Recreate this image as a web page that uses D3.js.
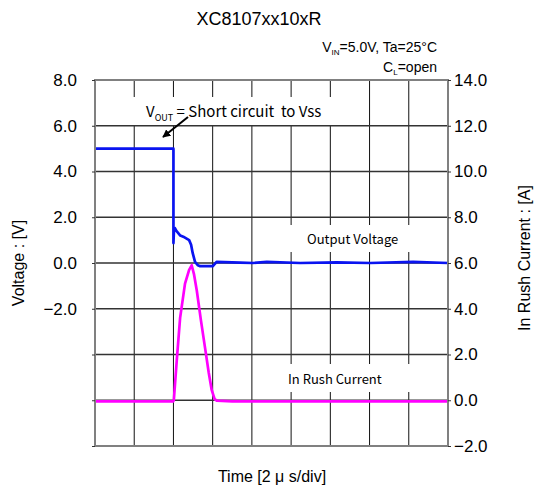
<!DOCTYPE html>
<html>
<head>
<meta charset="utf-8">
<script src="https://cdn.jsdelivr.net/npm/d3@7"></script>
<style>
  body { margin: 0; background: #fff; }
  svg { display: block; }
  .tick text { font-family: "Liberation Sans", Arial, sans-serif; font-size: 17px; fill: #000; }
  .jp { font-family: "Noto Sans CJK JP", sans-serif; }
</style>
</head>
<body>
<div id="chart"></div>
<script>
// tempo in microsecondi (2 us/div, 9 divisioni)
const timeDomain = [0, 18];
const voltDomain = [-8, 8];
const currDomain = [-2, 14];

const voltTicks = [-8, -6, -4, -2, 0, 2, 4, 6, 8];
const voltLabeled = [-2, 0, 2, 4, 6, 8];
const currTicks = [-2, 0, 2, 4, 6, 8, 10, 12, 14];
const timeGrid = [2, 4, 6, 8, 10, 12, 14, 16];

// Output Voltage [us, V]
const vOutT = [0, 4.0, 4.0, 4.03, 4.08, 4.15, 4.35, 4.5, 4.8, 4.9, 4.98, 5.1, 5.25, 5.36, 6.0, 6.1, 6.2, 7.4, 8.06, 8.76, 10.46, 12.33, 14.03, 16.22, 18];
const vOutV = [5.0, 5.0, 0.87, 1.5, 1.52, 1.4, 1.2, 1.15, 1.0, 0.8, 0.44, 0.05, -0.1, -0.14, -0.14, -0.05, 0.05, 0.02, 0.0, 0.05, 0.0, 0.03, 0.0, 0.05, 0.0];

// In Rush Current [us, A]
const iRushT = [0, 3.98, 4.02, 4.17, 4.34, 4.59, 4.8, 4.93, 5.05, 5.19, 5.4, 5.61, 5.8, 5.95, 6.1, 6.21, 7, 18];
const iRushA = [-0.05, -0.05, 0.0, 1.75, 3.6, 5.1, 5.7, 5.9, 5.5, 4.8, 3.5, 2.3, 1.2, 0.45, 0.05, -0.02, -0.05, -0.05];

const W = 537, H = 494;
const pLeft = 95, pRight = 448, pTop = 80, pBottom = 446;

const svg = d3.select("#chart").append("svg")
    .attr("width", W)
    .attr("height", H);

const x = d3.scaleLinear().domain(timeDomain).range([pLeft, pRight]);
const yV = d3.scaleLinear().domain(voltDomain).range([pBottom, pTop]);
const yA = d3.scaleLinear().domain(currDomain).range([pBottom, pTop]);

// Griglia
const grid = svg.append("g");
grid.selectAll("line.v")
    .data(timeGrid)
    .join("line")
    .attr("x1", d => x(d)).attr("x2", d => x(d))
    .attr("y1", pTop).attr("y2", pBottom)
    .attr("stroke", "#111").attr("stroke-width", 1);
grid.selectAll("line.h")
    .data(voltTicks.filter(d => d > voltDomain[0] && d < voltDomain[1]))
    .join("line")
    .attr("x1", pLeft).attr("x2", pRight)
    .attr("y1", d => yV(d)).attr("y2", d => yV(d))
    .attr("stroke", "#333").attr("stroke-width", 1.3);

// Riquadri bianchi delle etichette (coprono la griglia)
const boxes = [
    [104, 97, 246, 28],
    [285, 225, 130, 27],
    [282, 364, 132, 28]
];
svg.append("g").selectAll("rect")
    .data(boxes)
    .join("rect")
    .attr("x", d => d[0]).attr("y", d => d[1])
    .attr("width", d => d[2]).attr("height", d => d[3])
    .attr("fill", "#fff");

// Curve
const lineV = d3.line().x((d, i) => x(vOutT[i])).y(d => yV(d));
const lineA = d3.line().x((d, i) => x(iRushT[i])).y(d => yA(d));

svg.append("path")
    .attr("d", lineA(iRushA))
    .attr("fill", "none")
    .attr("stroke", "#ff00ff")
    .attr("stroke-width", 2.7)
    .attr("stroke-linejoin", "round");

svg.append("path")
    .attr("d", lineV(vOutV))
    .attr("fill", "none")
    .attr("stroke", "#0a14f0")
    .attr("stroke-width", 2.7)
    .attr("stroke-linejoin", "round");

// Cornice
svg.append("rect")
    .attr("x", pLeft).attr("y", pTop)
    .attr("width", pRight - pLeft).attr("height", pBottom - pTop)
    .attr("fill", "none")
    .attr("stroke", "#808080")
    .attr("stroke-width", 2);

// Assi
const fmt = d3.format(".1f");
const minus = s => s.replace("-", "\u2212");

const axL = svg.append("g")
    .attr("transform", `translate(${pLeft},0)`)
    .call(d3.axisLeft(yV)
        .tickValues(voltTicks)
        .tickSize(3)
        .tickPadding(15)
        .tickFormat(d => voltLabeled.includes(d) ? minus(fmt(d)) : ""));

const axR = svg.append("g")
    .attr("transform", `translate(${pRight},0)`)
    .call(d3.axisRight(yA)
        .tickValues(currTicks)
        .tickSize(3)
        .tickPadding(3)
        .tickFormat(d => minus(fmt(d))));

[axL, axR].forEach(a => {
    a.select(".domain").remove();
    a.selectAll(".tick line").attr("stroke", "#333");
});

// Titoli
const sans = "Liberation Sans, Arial, sans-serif";

svg.append("text")
    .attr("x", 259).attr("y", 25)
    .attr("text-anchor", "middle")
    .style("font-family", sans).style("font-size", "18px")
    .text("XC8107xx10xR");

const cond1 = svg.append("text")
    .attr("x", 437).attr("y", 52)
    .attr("text-anchor", "end")
    .style("font-family", sans).style("font-size", "14px");
cond1.append("tspan").text("V");
cond1.append("tspan").attr("dy", 3).style("font-size", "8px").text("IN");
cond1.append("tspan").attr("dy", -3).text("=5.0V, Ta=25\u00B0C");

const cond2 = svg.append("text")
    .attr("x", 437).attr("y", 72)
    .attr("text-anchor", "end")
    .style("font-family", sans).style("font-size", "14px");
cond2.append("tspan").text("C");
cond2.append("tspan").attr("dy", 3).style("font-size", "8px").text("L");
cond2.append("tspan").attr("dy", -3).text("=open");

svg.append("text")
    .attr("transform", "translate(24,263) rotate(-90)")
    .attr("text-anchor", "middle")
    .style("font-family", sans).style("font-size", "16px")
    .text("Voltage : [V]");

svg.append("text")
    .attr("transform", "translate(530,258) rotate(-90)")
    .attr("text-anchor", "middle")
    .style("font-family", sans).style("font-size", "16px")
    .text("In Rush Current : [A]");

svg.append("text")
    .attr("x", 272).attr("y", 482)
    .attr("text-anchor", "middle")
    .style("font-family", sans).style("font-size", "16px")
    .text("Time [2 \u03BC s/div]");

// Annotazioni
const ann = svg.append("text")
    .attr("class", "jp")
    .attr("x", 146).attr("y", 117)
    .style("font-size", "15px");
ann.append("tspan").text("V");
ann.append("tspan").attr("dy", 4).style("font-size", "9px").text("OUT");
ann.append("tspan").attr("dy", -4).text(" = Short circuit\u00A0\u00A0to Vss");

svg.append("text")
    .attr("class", "jp")
    .attr("x", 307).attr("y", 244)
    .style("font-size", "13px")
    .text("Output Voltage");

svg.append("text")
    .attr("class", "jp")
    .attr("x", 288).attr("y", 384)
    .style("font-size", "13px")
    .text("In Rush Current");

// Freccia
svg.append("defs").append("marker")
    .attr("id", "arrow")
    .attr("viewBox", "0 0 10 10")
    .attr("refX", 9).attr("refY", 5)
    .attr("markerWidth", 4).attr("markerHeight", 4)
    .attr("orient", "auto")
    .append("path")
    .attr("d", "M0,0L10,5L0,10Z")
    .attr("fill", "#000");

svg.append("line")
    .attr("x1", 188).attr("y1", 117)
    .attr("x2", 163).attr("y2", 137)
    .attr("stroke", "#000")
    .attr("stroke-width", 2)
    .attr("marker-end", "url(#arrow)");
</script>
</body>
</html>
